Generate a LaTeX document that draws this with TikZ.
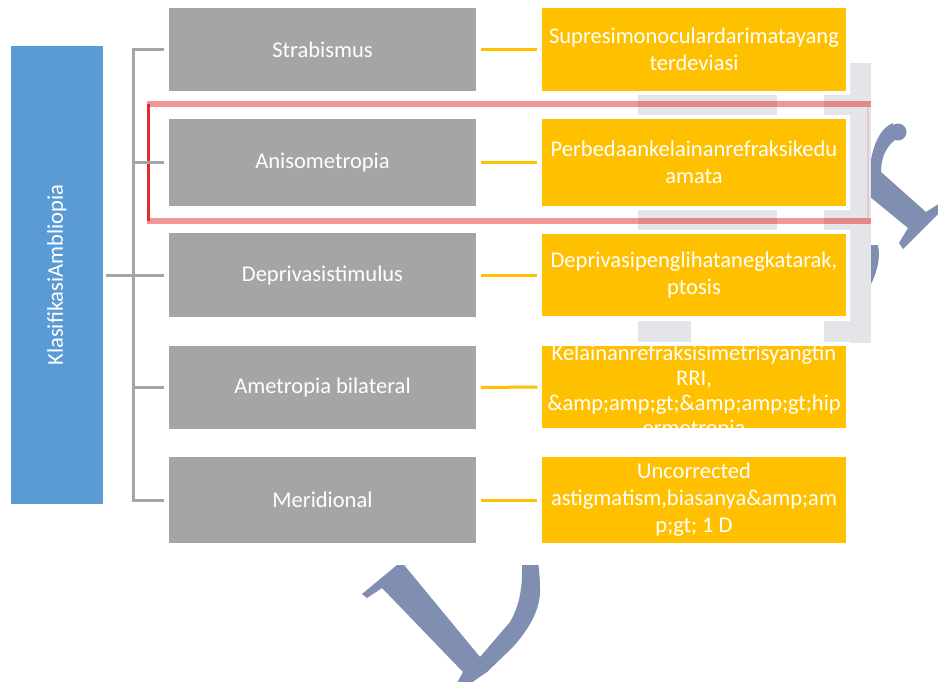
\documentclass[tikz,border=0pt]{standalone}
\usepackage{fontspec}
\setmainfont{Carlito}
\definecolor{catgray}{RGB}{165,165,165}
\definecolor{gold}{RGB}{255,192,0}
\definecolor{rootblue}{RGB}{91,155,213}
\definecolor{wmblue}{RGB}{128,143,177}
\definecolor{blockgray}{RGB}{228,229,233}
\definecolor{hlred}{RGB}{228,44,46}
\begin{document}
\begin{tikzpicture}[x=1pt,y=-1pt,
  boxtext/.style={text=white,font=\fontsize{22.5}{27}\selectfont,align=center},
  catbox/.style={boxtext,fill=catgray,draw=white,line width=1.5pt,minimum width=309pt,inner sep=0pt},
  descbox/.style={boxtext,fill=gold,draw=white,line width=1.5pt,minimum width=306pt,inner sep=0pt},
  tree/.style={draw=catgray,line width=3pt},
  link/.style={draw=gold,line width=3pt,shorten <=3pt,shorten >=3pt},
  wm/.style={fill=wmblue}]
\useasboundingbox (0,0) rectangle (938,686);
\fill[white] (0,0) rectangle (938,686);

% watermark letters behind the chart
\fill[wm] (403,560) -- (362,594) -- (367,598) -- (382,588) -- (463,672) -- (457,683)
  -- (471,683) -- (487,672) -- (513,647)
  .. controls (528,630) and (541,610) .. (540,588)
  .. controls (540,578) and (539,570) .. (538,560) -- (522,560)
  .. controls (523,585) and (520,605) .. (510,622) -- (480,657) -- (400,560) -- cycle;
\fill[wm] (898,132) circle (8.5);
\fill[wm] (893,123) .. controls (878,129) and (871,150) .. (869,175) -- (869,196)
  -- (908,228) -- (899,243) -- (903,249) -- (940,212) -- (940,203) -- (926,212)
  -- (881,172) .. controls (881,158) and (886,147) .. (895,140) -- cycle;
\fill[wm] (866,245) -- (878,245) .. controls (880,255) and (879,268) .. (871,284) -- (866,292) -- cycle;

% chart canvas
\fill[white] (0,0) rectangle (871,565);
\fill[white] (0,682) rectangle (938,686);

% light blocks behind the descriptions
\fill[blockgray] (850,63) rectangle (871,343);
\fill[blockgray] (638,95) rectangle (777,115);
\fill[blockgray] (824,95) rectangle (871,115);
\fill[blockgray] (638,210) rectangle (777,230);
\fill[blockgray] (824,210) rectangle (871,230);
\fill[blockgray] (638,321) rectangle (691,342);
\fill[blockgray] (824,321) rectangle (871,342);

% highlight frame
\draw[hlred,opacity=0.5,line width=6pt] (147,104) -- (871,104);
\draw[hlred,opacity=0.5,line width=6pt] (147,221) -- (871,221);
\draw[hlred,line width=3pt] (148.5,104) -- (148.5,221);
\draw[hlred,opacity=0.15,line width=2pt] (868,107) -- (868,218);

% root
\node[fill=rootblue,minimum width=92pt,minimum height=458pt,inner sep=0pt] (root) at (57,275) {};
\node[boxtext,rotate=90] (roottext) at (57,275) {KlasifikasiAmbliopia};

% categories
\node[catbox,minimum height=85pt] (g1) at (322.5,49.5) {Strabismus};
\node[catbox,minimum height=89pt] (g2) at (322.5,162.5) {Anisometropia};
\node[catbox,minimum height=85pt] (g3) at (322.5,275) {Deprivasistimulus};
\node[catbox,minimum height=85pt] (g4) at (322.5,387.5) {Ametropia bilateral};
\node[catbox,minimum height=88pt] (g5) at (322.5,500) {Meridional};

% descriptions
\node[descbox,minimum height=85pt] (d1) at (694,49.5) {Supresimonoculardarimatayang\\terdeviasi};
\node[descbox,minimum height=89pt] (d2) at (694,162.5) {Perbedaankelainanrefraksikedu\\amata};
\node[descbox,minimum height=84pt] (d3) at (694,275) {Deprivasipenglihatanegkatarak,\\ptosis};
\node[descbox,minimum height=84pt] (d4) at (694,387) {};
\begin{scope}
  \clip (d4.north west) rectangle (d4.south east);
  \node[boxtext,font=\fontsize{22.5}{25}\selectfont] (d4text) at (694,392)
    {Kelainanrefraksisimetrisyangtin\\RRI,\\\&amp;amp;gt;\&amp;amp;gt;hip\\ermetropia};
\end{scope}
\node[descbox,minimum height=88pt] (d5) at (694,500) {Uncorrected\\astigmatism,biasanya\&amp;am\\p;gt; 1 D};

% tree connectors
\coordinate (trunk) at (133,275);
\draw[tree,shorten <=3pt] (g1.west) -| (trunk);
\draw[tree,shorten <=3pt] (g2.west) -| (trunk);
\draw[tree,shorten <=3pt] (g4.west) -| (trunk);
\draw[tree,shorten <=3pt] (g5.west) -| (trunk);
\draw[tree,shorten <=3pt,shorten >=3pt] (root.east) -- (g3.west);

% links to descriptions
\foreach \i in {1,...,5} \draw[link] (g\i.east) -- (d\i.west);
\end{tikzpicture}
\end{document}
